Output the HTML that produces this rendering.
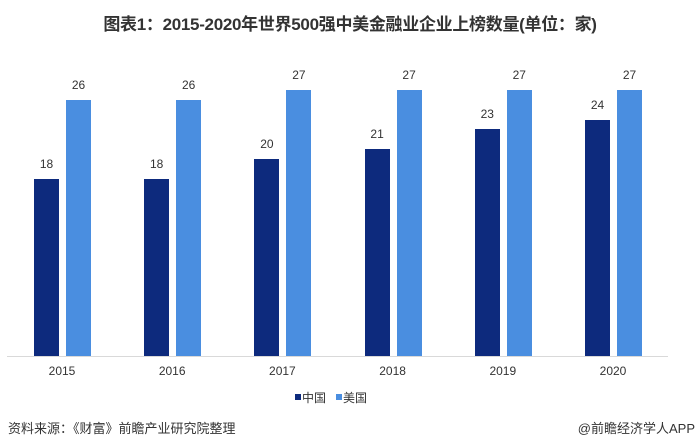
<!DOCTYPE html>
<html><head><meta charset="utf-8"><style>
body{margin:0;width:700px;height:448px;background:#fff;font-family:"Liberation Sans","Noto Sans CJK SC",sans-serif;position:relative;overflow:hidden}
.t{position:absolute;top:10px;left:0;width:700px;text-align:center;font-weight:bold;font-size:17px;color:#333;letter-spacing:-0.3px}
.b{position:absolute;width:25px}
.c{background:#0d2a7d}.u{background:#4a8ee0}
.v{position:absolute;width:40px;text-align:center;font-size:12px;color:#333}
.x{position:absolute;top:364px;width:60px;text-align:center;font-size:12px;color:#333}
.ax{position:absolute;left:7px;width:661px;top:356px;height:1px;background:#d9d9d9}
</style></head><body>
<div class="t">图表1：2015-2020年世界500强中美金融业企业上榜数量(单位：家)</div>
<div class="ax"></div>
<div id="g"></div>
<div style="position:absolute;left:295px;top:394px;width:6px;height:6px;background:#0d2a7d"></div>
<div style="position:absolute;left:302px;top:389px;font-size:12px;color:#333">中国</div>
<div style="position:absolute;left:336px;top:394px;width:6px;height:6px;background:#4a8ee0"></div>
<div style="position:absolute;left:343px;top:389px;font-size:12px;color:#333">美国</div>
<div style="position:absolute;left:8px;top:418px;font-size:13px;color:#333">资料来源：《财富》前瞻产业研究院整理</div>
<div style="position:absolute;right:5px;top:418px;font-size:13px;color:#333">@前瞻经济学人APP</div>
<script>
var cn=[18,18,20,21,23,24],us=[26,26,27,27,27,27],h="";
for(var i=0;i<6;i++){var x=34+i*110.2,a=cn[i]*9.85,b=us[i]*9.85;
h+='<div class="b c" style="left:'+x+'px;top:'+(356-a)+'px;height:'+a+'px"></div>';
h+='<div class="b u" style="left:'+(x+32)+'px;top:'+(356-b)+'px;height:'+b+'px"></div>';
h+='<div class="v" style="left:'+(x-7.5)+'px;top:'+(356-a-22)+'px">'+cn[i]+'</div>';
h+='<div class="v" style="left:'+(x+24.5)+'px;top:'+(356-b-22)+'px">'+us[i]+'</div>';
h+='<div class="x" style="left:'+(x-2)+'px">'+(2015+i)+'</div>';}
document.getElementById("g").innerHTML=h;
</script>
</body></html>
